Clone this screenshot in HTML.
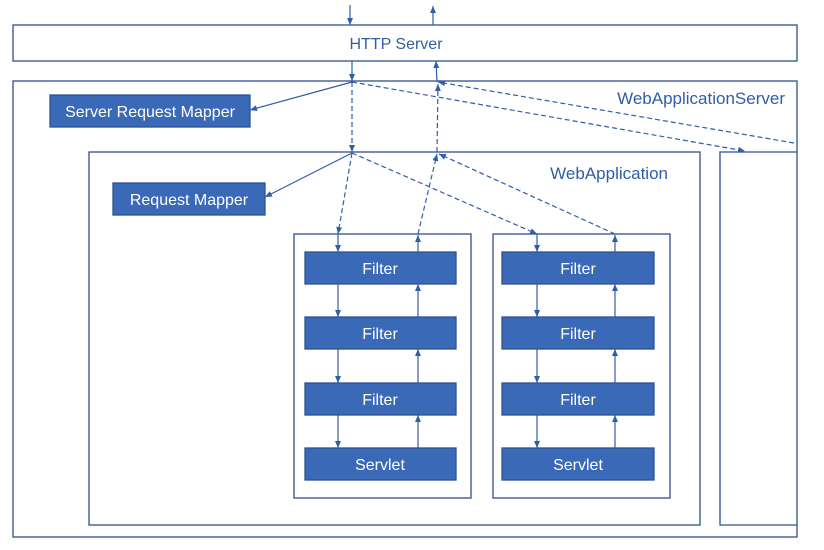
<!DOCTYPE html>
<html><head><style>body{margin:0;background:#fff}svg{display:block}text{font-family:"Liberation Sans",sans-serif}</style></head><body>
<svg width="824" height="550" viewBox="0 0 824 550" xmlns="http://www.w3.org/2000/svg">
<defs><marker id="a" markerWidth="8" markerHeight="8" refX="7" refY="4" orient="auto" markerUnits="userSpaceOnUse"><path d="M0,1 L7,4 L0,7 z" fill="#2f5ea8"/></marker></defs>
<g fill="none" stroke="#2f4f8f" stroke-width="1.3">
<rect x="13" y="25" width="784" height="36"/>
<rect x="13" y="81" width="784" height="456"/>
<rect x="89" y="152" width="611" height="373"/>
<polyline points="797,152 720,152 720,525 797,525"/>
<rect x="294" y="234" width="177" height="264"/>
<rect x="493" y="234" width="177" height="264"/>
</g>
<g fill="#3a69b8" stroke="#2f528f" stroke-width="1.3">
<rect x="50" y="95" width="200" height="32"/>
<rect x="113" y="183" width="152" height="32"/>
<rect x="305" y="252" width="151" height="32"/><rect x="305" y="317" width="151" height="32"/><rect x="305" y="383" width="151" height="32"/><rect x="305" y="448" width="151" height="32"/>
<rect x="502" y="252" width="152" height="32"/><rect x="502" y="317" width="152" height="32"/><rect x="502" y="383" width="152" height="32"/><rect x="502" y="448" width="152" height="32"/>
</g>
<g stroke="#2f5ea8" stroke-width="1.2" fill="none" marker-end="url(#a)">
<line x1="350" y1="5" x2="350" y2="25"/><line x1="433" y1="25" x2="433" y2="6"/>
<line x1="352" y1="61" x2="352" y2="81"/><line x1="437" y1="82" x2="436" y2="61"/>
<line x1="352" y1="82" x2="250" y2="110"/>
<line x1="352" y1="153" x2="265" y2="197"/>
<g stroke-dasharray="5,3">
<line x1="352" y1="82" x2="352" y2="152"/>
<line x1="352" y1="82" x2="745" y2="151"/>
<line x1="794" y1="143" x2="438" y2="82"/>
<line x1="437" y1="152" x2="438" y2="84"/>
<line x1="352" y1="153" x2="338" y2="234"/>
<line x1="352" y1="153" x2="537" y2="234"/>
<line x1="418" y1="234" x2="437" y2="154"/>
<line x1="615" y1="234" x2="439" y2="154"/>
</g>
<line x1="338" y1="234" x2="338" y2="252"/><line x1="418" y1="252" x2="418" y2="235"/>
<line x1="537" y1="234" x2="537" y2="252"/><line x1="615" y1="252" x2="615" y2="235"/>
<line x1="338" y1="284" x2="338" y2="317"/><line x1="418" y1="317" x2="418" y2="284"/>
<line x1="338" y1="349" x2="338" y2="383"/><line x1="418" y1="383" x2="418" y2="349"/>
<line x1="338" y1="415" x2="338" y2="448"/><line x1="418" y1="448" x2="418" y2="415"/>
<line x1="537" y1="284" x2="537" y2="317"/><line x1="615" y1="317" x2="615" y2="284"/>
<line x1="537" y1="349" x2="537" y2="383"/><line x1="615" y1="383" x2="615" y2="349"/>
<line x1="537" y1="415" x2="537" y2="448"/><line x1="615" y1="448" x2="615" y2="415"/>
</g>
<g fill="#2f5ea8" font-size="16">
<text x="396" y="49" text-anchor="middle">HTTP Server</text>
<text x="785" y="104" text-anchor="end" font-size="17">WebApplicationServer</text>
<text x="668" y="179" text-anchor="end" font-size="17">WebApplication</text>
</g>
<g fill="#fff" font-size="16" text-anchor="middle">
<text x="150" y="117">Server Request Mapper</text>
<text x="189" y="205">Request Mapper</text>
<text x="380" y="274">Filter</text><text x="380" y="339">Filter</text><text x="380" y="405">Filter</text><text x="380" y="470">Servlet</text>
<text x="578" y="274">Filter</text><text x="578" y="339">Filter</text><text x="578" y="405">Filter</text><text x="578" y="470">Servlet</text>
</g>
</svg>
</body></html>
